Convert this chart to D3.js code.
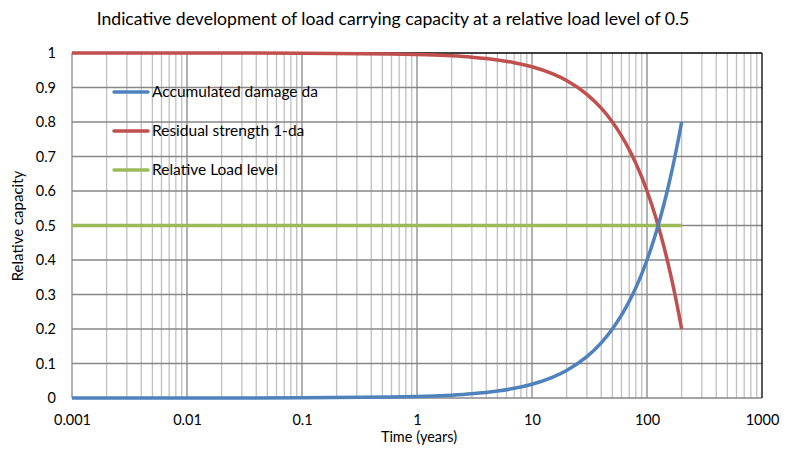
<!DOCTYPE html>
<html><head><meta charset="utf-8">
<script src="https://cdn.jsdelivr.net/npm/d3@7"></script>
<style>body{margin:0;background:#fff}svg{display:block;font-family:Lato,"Open Sans",sans-serif}</style>
</head><body><svg id="c" width="786" height="455"></svg>
<script>
const title = "Indicative development of load carrying capacity at a relative load level of 0.5";
const xLabel = "Time (years)";
const yLabel = "Relative capacity";
const seriesNames = ["Accumulated damage da", "Residual strength 1-da", "Relative Load level"];
const seriesColors = ["#4F81BD", "#C0504D", "#9BBB59"];
const xTicks = [0.001, 0.01, 0.1, 1, 10, 100, 1000];
const xTickLabels = ["0.001", "0.01", "0.1", "1", "10", "100", "1000"];
const yTicks = [0, 0.1, 0.2, 0.3, 0.4, 0.5, 0.6, 0.7, 0.8, 0.9, 1];
const time = [0.001, 0.01, 0.1, 1, 2, 3, 5, 7, 10, 15, 20, 30, 40, 50, 60, 70, 80, 90, 100, 110, 125, 140, 150, 160, 175, 190, 200];
const damage = [0.000004, 0.00004, 0.0004, 0.004, 0.008, 0.012, 0.02, 0.028, 0.04, 0.06, 0.08, 0.12, 0.16, 0.2, 0.24, 0.28, 0.32, 0.36, 0.4, 0.44, 0.5, 0.56, 0.6, 0.64, 0.7, 0.76, 0.8];
const residual = [0.999996, 0.99996, 0.9996, 0.996, 0.992, 0.988, 0.98, 0.972, 0.96, 0.94, 0.92, 0.88, 0.84, 0.8, 0.76, 0.72, 0.68, 0.64, 0.6, 0.56, 0.5, 0.44, 0.4, 0.36, 0.3, 0.24, 0.2];
const loadTime = [0.001, 200];
const loadLevel = [0.5, 0.5];

const svg = d3.select("#c");
const L = 72, R = 762, T = 53, B = 398;
const x = d3.scaleLog().domain([0.001, 1000]).range([L, R]);
const y = d3.scaleLinear().domain([0, 1]).range([B, T]);

// minor vertical grid
const minor = [];
for (let e = -3; e < 3; e++) for (let k = 2; k <= 9; k++) minor.push(k * Math.pow(10, e));
svg.append("g").selectAll("line").data(minor).join("line")
  .attr("x1", d => x(d)).attr("x2", d => x(d)).attr("y1", T).attr("y2", B)
  .attr("stroke", "#bfbfbf").attr("stroke-width", 1.3);
// major vertical
svg.append("g").selectAll("line").data(xTicks.slice(1, -1)).join("line")
  .attr("x1", d => x(d)).attr("x2", d => x(d)).attr("y1", T).attr("y2", B)
  .attr("stroke", "#878787").attr("stroke-width", 1.3);
// horizontal grid
svg.append("g").selectAll("line").data(yTicks.slice(1, -1)).join("line")
  .attr("x1", L).attr("x2", R).attr("y1", d => y(d)).attr("y2", d => y(d))
  .attr("stroke", "#878787").attr("stroke-width", 1.3);
// frame
svg.append("line").attr("x1", L).attr("x2", L).attr("y1", T).attr("y2", B).attr("stroke", "#878787").attr("stroke-width", 1.3);
svg.append("line").attr("x1", L).attr("x2", R).attr("y1", B).attr("y2", B).attr("stroke", "#878787").attr("stroke-width", 1.3);
svg.append("line").attr("x1", L).attr("x2", R).attr("y1", T).attr("y2", T).attr("stroke", "#000").attr("stroke-width", 1.3);
svg.append("line").attr("x1", R).attr("x2", R).attr("y1", T).attr("y2", B).attr("stroke", "#000").attr("stroke-width", 1.3);

// axes labels via d3 axes
const xAxis = d3.axisBottom(x).tickValues(xTicks).tickFormat((d, i) => xTickLabels[i]).tickSize(0).tickPadding(17);
const gx = svg.append("g").attr("transform", `translate(0,${B})`).call(xAxis);
gx.select(".domain").remove();
gx.selectAll("text").attr("font-size", 14.5).attr("fill", "#000").attr("font-family", "Lato, sans-serif");
const yAxis = d3.axisLeft(y).tickValues(yTicks).tickFormat(d => d3.format("")(+d.toFixed(1))).tickSize(0).tickPadding(16);
const gy = svg.append("g").attr("transform", `translate(${L},0)`).call(yAxis);
gy.select(".domain").remove();
gy.selectAll("text").attr("font-size", 14.5).attr("fill", "#000").attr("font-family", "Lato, sans-serif");

// series
const line = d3.line().x(d => x(d[0])).y(d => y(d[1])).curve(d3.curveMonotoneX);
const data = [
  time.map((t, i) => [t, damage[i]]),
  time.map((t, i) => [t, residual[i]]),
  loadTime.map((t, i) => [t, loadLevel[i]])
];
[2, 1, 0].forEach(i => {
  svg.append("path").attr("d", line(data[i])).attr("fill", "none")
    .attr("stroke", seriesColors[i]).attr("stroke-width", 3.5).attr("stroke-linejoin", "round");
});

// legend
const legY = [92, 131, 170];
seriesNames.forEach((n, i) => {
  svg.append("line").attr("x1", 114).attr("x2", 148).attr("y1", legY[i]).attr("y2", legY[i])
    .attr("stroke", seriesColors[i]).attr("stroke-width", 3.5).attr("stroke-linecap", "round");
  svg.append("text").attr("x", 152).attr("y", legY[i]).attr("dy", "0.35em")
    .attr("font-size", 15.5).text(n);
});

// titles
svg.append("text").attr("x", 393).attr("y", 25).attr("text-anchor", "middle").attr("font-size", 17.6).text(title);
svg.append("text").attr("x", 419).attr("y", 442).attr("text-anchor", "middle").attr("font-size", 14.5).text(xLabel);
svg.append("text").attr("transform", "translate(23,226) rotate(-90)").attr("text-anchor", "middle").attr("font-size", 15).text(yLabel);
</script></body></html>
